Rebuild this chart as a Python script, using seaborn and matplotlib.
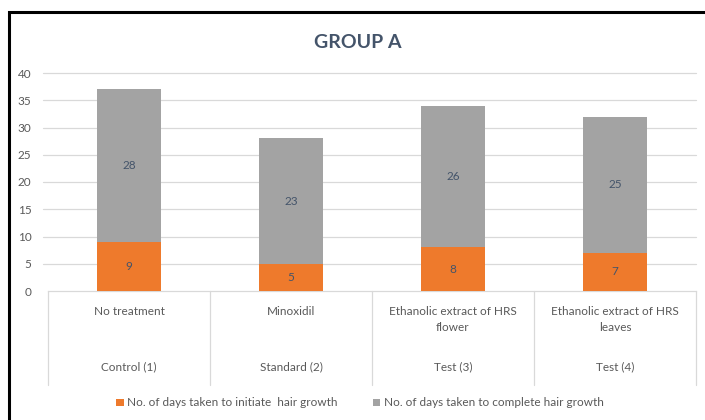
import matplotlib
matplotlib.use("Agg")
import matplotlib.pyplot as plt
import seaborn as sns
import pandas as pd
from matplotlib.patches import Patch, Rectangle
from matplotlib.lines import Line2D
from matplotlib.transforms import blended_transform_factory

groups = ["Control (1)", "Standard (2)", "Test (3)", "Test (4)"]
treatments = ["No treatment", "Minoxidil", "Ethanolic extract of HRS\nflower", "Ethanolic extract of HRS\nleaves"]
initiate = [9, 5, 8, 7]
complete = [28, 23, 26, 25]
series_names = ["No. of days taken to initiate  hair growth", "No. of days taken to complete hair growth"]
title = "GROUP A"

sns.set_theme(style="white")
plt.rcParams["font.family"] = ["Lato", "DejaVu Sans"]

df = pd.DataFrame({"cat": groups, "initiate": initiate, "complete": complete})
df["total"] = df["initiate"] + df["complete"]

W, H = 705, 420
fig = plt.figure(figsize=(W / 100, H / 100), dpi=100)
ax_left, ax_right = 48, 696
ax = fig.add_axes([ax_left / W, 1 - 291 / H, (ax_right - ax_left) / W, (291 - 73) / H])

orange = "#EE7A2C"
gray = "#A3A3A3"
sns.barplot(data=df, x="cat", y="total", color=gray, width=0.4, ax=ax, saturation=1, zorder=3, linewidth=0)
sns.barplot(data=df, x="cat", y="initiate", color=orange, width=0.4, ax=ax, saturation=1, zorder=4, linewidth=0)

ax.set_ylim(0, 40)
ax.set_xlim(-0.5, len(groups) - 0.5)
ax.set_yticks(range(0, 41, 5))
ax.tick_params(axis="y", labelsize=8.5, colors="#595959", length=0, pad=12)
ax.set_xticks([])
ax.set_xlabel("")
ax.set_ylabel("")
ax.grid(False)
for s in ["top", "right", "left"]:
    ax.spines[s].set_visible(False)
ax.spines["bottom"].set_color("#D9D9D9")
ax.spines["bottom"].set_linewidth(0.9)

gtrans = blended_transform_factory(ax.transAxes, ax.transData)
x0 = (43 - ax_left) / (ax_right - ax_left)
for v in range(5, 41, 5):
    ax.add_line(Line2D([x0, 1], [v, v], transform=gtrans, color="#D9D9D9", linewidth=0.9,
                       clip_on=False, zorder=0))

lab_col = "#44546A"
for i in range(len(groups)):
    ax.text(i, initiate[i] / 2, str(initiate[i]), ha="center", va="center", fontsize=8.5, color=lab_col, zorder=5)
    ax.text(i, initiate[i] + complete[i] / 2, str(complete[i]), ha="center", va="center", fontsize=8.5, color=lab_col, zorder=5)

def fy(py):
    return 1 - py / H

trans = blended_transform_factory(ax.transData, fig.transFigure)
for i in range(len(groups)):
    ax.text(i, fy(306), treatments[i], ha="center", va="top", fontsize=8.5, color="#595959",
            transform=trans, linespacing=1.6)
    ax.text(i, fy(367), groups[i], ha="center", va="center", fontsize=8.5, color="#595959",
            transform=trans)
for b in range(len(groups) + 1):
    ax.add_line(Line2D([b - 0.5, b - 0.5], [fy(291), fy(385)], transform=trans, color="#D9D9D9",
                       linewidth=0.9, clip_on=False))

fig.text(358 / W, fy(43), title, ha="center", va="center", fontsize=14, fontweight="bold", color="#44546A")

handles = [Patch(facecolor=orange, edgecolor="none"), Patch(facecolor=gray, edgecolor="none")]
fig.legend(handles, series_names, loc="center", bbox_to_anchor=(360 / W, fy(403)), ncol=2, frameon=False,
           fontsize=8.5, handlelength=0.6, handleheight=0.6, handletextpad=0.3, columnspacing=3,
           labelcolor="#595959")

fig.add_artist(Rectangle((9 / W, -0.1), 1.2, fy(12) + 0.1, transform=fig.transFigure, fill=False,
                         edgecolor="black", linewidth=2.2))

fig.savefig("out.png", dpi=100)
